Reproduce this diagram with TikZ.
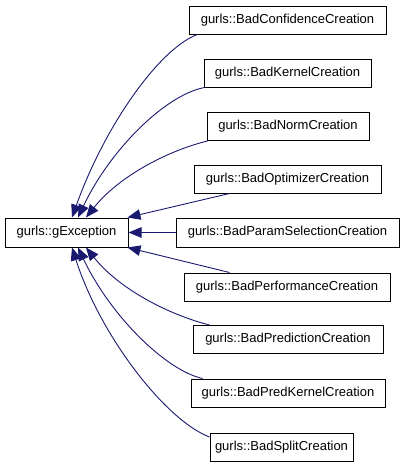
\documentclass[tikz,border=0pt]{standalone}
\usepackage{fontspec}
\setmainfont{Liberation Sans}
\usetikzlibrary{arrows.meta,calc}
\definecolor{edgeblue}{RGB}{25,25,112}
\tikzset{
  cls/.style={draw=black,line width=1pt,fill=white,inner sep=0pt,minimum height=28pt,font=\fontsize{13pt}{15pt}\selectfont},
  inh/.style={draw=edgeblue,line width=0.9pt,-{Triangle[length=13pt,width=10.5pt]}}
}
\begin{document}
\begin{tikzpicture}[x=1pt,y=-1pt]
\useasboundingbox (0,0) rectangle (405,467);
\node[cls,minimum width=123pt,minimum height=29pt] (g) at (66.5,232.5) {gurls::gException};
\node[cls,minimum width=197pt] (c1) at (287.5,20) {gurls::BadConfidenceCreation};
\node[cls,minimum width=167pt] (c2) at (287.5,73) {gurls::BadKernelCreation};
\node[cls,minimum width=162pt] (c3) at (288,126.5) {gurls::BadNormCreation};
\node[cls,minimum width=187pt] (c4) at (287.5,179) {gurls::BadOptimizerCreation};
\node[cls,minimum width=223pt,minimum height=29pt] (c5) at (287.5,232.5) {gurls::BadParamSelectionCreation};
\node[cls,minimum width=206pt] (c6) at (287,287) {gurls::BadPerformanceCreation};
\node[cls,minimum width=190pt] (c7) at (288,339.5) {gurls::BadPredictionCreation};
\node[cls,minimum width=194pt] (c8) at (288,393) {gurls::BadPredKernelCreation};
\node[cls,minimum width=143pt] (c9) at (281.5,447) {gurls::BadSplitCreation};

\draw[inh] ($(c1.south west)+(9,0)$) .. controls (160,48) and (105,125) .. ($(g.north)+(5.5,0)$);
\draw[inh] ($(c2.south west)+(1,0)$) .. controls (165,95) and (110,150) .. ($(g.north)+(11.5,0)$);
\draw[inh] ($(c3.south west)+(1,0)$) .. controls (170,150) and (120,175) .. ($(g.north)+(19.5,0)$);
\draw[inh] ($(c4.south west)+(36,0)$) -- ($(g.north east)+(-1,0)$);
\draw[inh] (c5.west) -- (g.east);
\draw[inh] ($(c6.north west)+(46,0)$) -- ($(g.south east)+(-1,0)$);
\draw[inh] ($(c7.north west)+(17,0)$) .. controls (170,315) and (120,290) .. ($(g.south)+(19.5,0)$);
\draw[inh] ($(c8.north west)+(12,0)$) .. controls (165,370) and (110,315) .. ($(g.south)+(11.5,0)$);
\draw[inh] ($(c9.west)+(0,-10)$) .. controls (165,420) and (100,335) .. ($(g.south)+(5.5,0)$);
\end{tikzpicture}
\end{document}
